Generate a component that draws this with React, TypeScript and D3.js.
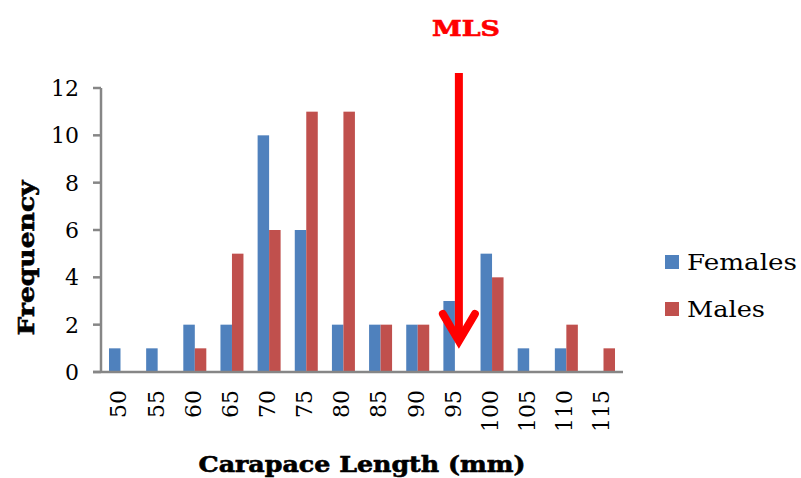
import React from "react";
import * as d3 from "d3";

const categories = ["50", "55", "60", "65", "70", "75", "80", "85", "90", "95", "100", "105", "110", "115"];
const females = [1, 1, 2, 2, 10, 6, 2, 2, 2, 3, 5, 1, 1, 0];
const males = [0, 0, 1, 5, 6, 11, 11, 2, 2, 0, 4, 0, 2, 1];
const yTicks = [0, 2, 4, 6, 8, 10, 12];
const seriesNames = ["Females", "Males"];
const seriesColors = ["#4F81BD", "#C0504D"];
const mlsCategory = "95";

export default function App() {
  const W = 801, H = 478;
  const left = 101, right = 623, top = 88, bottom = 372;
  const x = d3.scaleBand().domain(categories).range([left + 8, right - 8]).paddingInner(0.381).paddingOuter(0);
  const inner = d3.scaleBand().domain(seriesNames).range([0, x.bandwidth()]);
  const y = d3.scaleLinear().domain([0, 12]).range([bottom, top]);
  const font = "'DejaVu Serif', 'Liberation Serif', serif";
  const seriesData = [females, males];
  const ax = "#868686";
  const mx = x(mlsCategory)! + x.bandwidth() / 2 + 4;
  const legendLen = [110, 78];
  return (
    <svg width={W} height={H} style={{ position: "absolute", left: 0, top: 0, background: "#fff" }} fontFamily={font}>
      <rect width={W} height={H} fill="#fff" />
      {seriesData.map((vals, si) =>
        vals.map((v, i) => (
          <rect
            key={si + "-" + i}
            x={x(categories[i])! + inner(seriesNames[si])!}
            y={y(v)}
            width={inner.bandwidth()}
            height={y(0) - y(v)}
            fill={seriesColors[si]}
          />
        ))
      )}
      {/* y axis */}
      <line x1={left} x2={left} y1={top} y2={bottom} stroke={ax} strokeWidth={2.5} />
      {yTicks.map((t) => (
        <g key={t}>
          <line x1={left - 8} x2={left} y1={y(t)} y2={y(t)} stroke={ax} strokeWidth={2.5} />
          <text x={left - 22} y={y(t)} dy="0.36em" textAnchor="end" fontSize={22} fill="#000">{t}</text>
        </g>
      ))}
      {/* x axis */}
      <line x1={left - 8} x2={right} y1={bottom} y2={bottom} stroke={ax} strokeWidth={2.5} />
      {categories.map((c) => (
        <text
          key={c}
          transform={`translate(${x(c)! + x.bandwidth() / 2 - 2},${390}) rotate(-90)`}
          dy="0.36em"
          textAnchor="end"
          fontSize={22}
          fill="#000"
        >{c}</text>
      ))}
      <text x={362} y={472} textAnchor="middle" fontSize={22} fontWeight="bold" fill="#000" textLength={327} lengthAdjust="spacingAndGlyphs" stroke="#000" strokeWidth={0.6}>Carapace Length (mm)</text>
      <text transform={`translate(34,${258}) rotate(-90)`} textAnchor="middle" fontSize={22} fontWeight="bold" fill="#000" textLength={155} lengthAdjust="spacingAndGlyphs" stroke="#000" strokeWidth={0.6}>Frequency</text>
      {/* legend */}
      {seriesNames.map((s, i) => (
        <g key={s}>
          <rect x={665} y={255 + i * 47} width={14} height={14} fill={seriesColors[i]} />
          <text x={687} y={262 + i * 47} dy="0.36em" fontSize={22} fill="#000" textLength={legendLen[i]} lengthAdjust="spacingAndGlyphs">{s}</text>
        </g>
      ))}
      {/* MLS arrow */}
      <text x={466} y={36} textAnchor="middle" fontSize={22} fontWeight="bold" fill="#FF0000" textLength={68} lengthAdjust="spacingAndGlyphs" stroke="#FF0000" strokeWidth={0.6}>MLS</text>
      <line x1={mx} x2={mx} y1={73} y2={340} stroke="#FF0000" strokeWidth={8} />
      <polyline points={`${mx - 16},${314} ${mx},${341} ${mx + 16},${314}`} fill="none" stroke="#FF0000" strokeWidth={8} strokeLinejoin="miter" strokeLinecap="round" />
    </svg>
  );
}
